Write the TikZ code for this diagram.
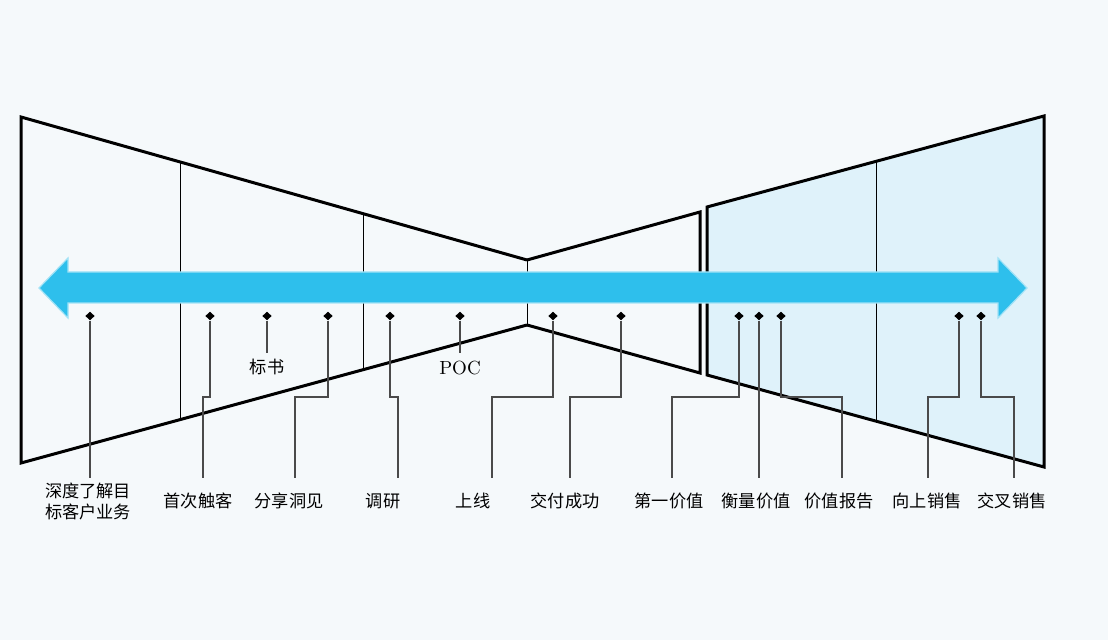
\documentclass[tikz,border=0pt]{standalone}
\usepackage{fontspec}
\newfontfamily\cjk{Noto Sans CJK SC}
\usetikzlibrary{shapes.geometric}
\definecolor{paper}{HTML}{F5F9FB}
\definecolor{flow}{HTML}{2EBFEC}
\definecolor{later}{HTML}{DFF2FA}
\definecolor{wire}{HTML}{4A4A4A}

\begin{document}
\begin{tikzpicture}[ x=0.5pt, y=-0.5pt, bullet/.style={
          fill=black, diamond, minimum width=4.8pt, minimum height=4.4pt,
          inner sep=0pt }, frame/.style={ line width=1.5pt },
        divider/.style={ line width=0.5pt },
        leader/.style={ draw=wire, line width=0.55pt },
        tag/.style={ font=\cjk\fontsize{8.6}{10.5}\selectfont,
          align=center, inner sep=0pt } ]
        \fill[paper] (0,0) rectangle (1108,640);
        \useasboundingbox (0,0) rectangle (1108,640);

        % funnels
        \fill[later] (707,207) -- (1044,116) -- (1044,467) -- (707,375) -- cycle;
        \draw[frame] (527,260) -- (21,117) -- (21,463) -- (527,325);
        \draw[frame] (527,260) -- (700,212) -- (700,373) -- (527,325);
        \draw[frame] (707,207) -- (1044,116) -- (1044,467) -- (707,375) -- cycle;
        \foreach \x/\t/\b in {180/162/419,363/214/369,527/260/325,876/162/420}
        \draw[divider] (\x,\t) -- (\x,\b);

        % time line
        \fill[flow, draw=white!55!flow, line width=0.6pt] (39,288) -- (68,258)
        -- (68,272) -- (998,272) -- (998,258) -- (1027,288) -- (998,318) --
        (998,303) -- (68,303) -- (68,318) -- cycle;

        \foreach \n/\x in {1/90,2/210,3/267,4/328,5/390,6/460,7/553,8/621,
          9/739,10/759,11/781,12/959,13/981}
        \node[bullet] (m\n) at (\x,316) {};

        \foreach \n/\x/\t in {1/88/{深度了解目\\标客户业务},2/198/首次触客,
          4/289/分享洞见,5/383/调研,7/473/上线,8/565/交付成功,9/669/第一价值,
          10/756/衡量价值,11/839/价值报告,12/927/向上销售,13/1012/交叉销售}
        \node[tag] (l\n) at (\x,501) {\t};
        \node[tag] (l3) at (267,367) {标书};
        \node[font=\fontsize{9.5}{11}\selectfont, inner sep=0pt] (l6) at
        (460,368) {POC};

        \foreach \n/\x in {1/90,2/203,4/295,5/398,7/492,8/570,9/672,10/759,
          11/842,12/928,13/1014}
        \coordinate (e\n) at (\x,478);

        \foreach \n in {1,10} \draw[leader] (m\n) -- (e\n);
        \foreach \n in {2,4,5,7,8,9,11,12,13}
        \draw[leader] (m\n) -- (m\n |- 0,397) -| (e\n);
        \draw[leader] (m3) -- ++(0,37); \draw[leader] (m6) -- ++(0,37);
      \end{tikzpicture}
\end{document}
